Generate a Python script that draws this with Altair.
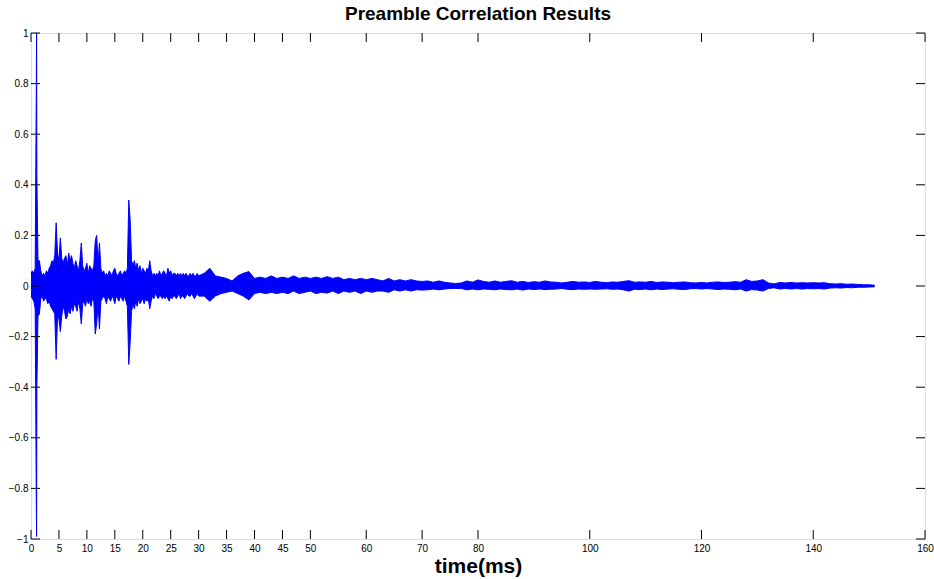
import altair as alt
import pandas as pd

# ---- data (time in ms, correlation envelope) ----
t_ms = [
    0.00, 0.25, 0.50, 0.75, 0.95, 1.00, 1.05, 1.25, 1.50, 1.75,
    2.00, 2.25, 2.50, 2.75, 3.00, 3.25, 3.50, 3.75, 4.00, 4.25,
    4.50, 4.75, 5.00, 5.25, 5.50, 5.75, 6.00, 6.25, 6.50, 6.75,
    7.00, 7.25, 7.50, 7.75, 8.00, 8.25, 8.50, 8.75, 9.00, 9.25,
    9.50, 9.75, 10.00, 10.25, 10.50, 10.75, 11.00, 11.25, 11.50, 11.75,
    12.00, 12.25, 12.50, 12.75, 13.00, 13.25, 13.50, 13.75, 14.00, 14.25,
    14.50, 14.75, 15.00, 15.25, 15.50, 15.75, 16.00, 16.25, 16.50, 16.75,
    17.00, 17.25, 17.50, 17.75, 18.00, 18.25, 18.50, 18.75, 19.00, 19.25,
    19.50, 19.75, 20.00, 20.25, 20.50, 20.75, 21.00, 21.25, 21.50, 21.75,
    22.00, 22.25, 22.50, 22.75, 23.00, 23.25, 23.50, 23.75, 24.00, 24.25,
    24.50, 24.75, 25.00, 25.25, 25.50, 25.75, 26.00, 26.25, 26.50, 26.75,
    27.00, 27.25, 27.50, 27.75, 28.00, 28.25, 28.50, 28.75, 29.00, 29.25,
    29.50, 29.75,
    30, 31, 32, 33, 34, 35, 36, 37, 38, 39,
    40, 41, 42, 43, 44, 45, 46, 47, 48, 49,
    50, 51, 52, 53, 54, 55, 56, 57, 58, 59,
    60, 61, 62, 63, 64, 65, 66, 67, 68, 69,
    70, 71, 72, 73, 74, 75, 76, 77, 78, 79,
    80, 81, 82, 83, 84, 85, 86, 87, 88, 89,
    90, 91, 92, 93, 94, 95, 96, 97, 98, 99,
    100, 101, 102, 103, 104, 105, 106, 107, 108, 109,
    110, 111, 112, 113, 114, 115, 116, 117, 118, 119,
    120, 121, 122, 123, 124, 125, 126, 127, 128, 129,
    130, 131, 132, 133, 134, 135, 136, 137, 138, 139,
    140, 141, 142, 143, 144, 145, 146, 147, 148, 149,
    150, 151,
]

upper = [
    0.05, 0.06, 0.05, 0.07, 0.78, 1.00, 0.44, 0.10, 0.10, 0.06,
    0.04, 0.05, 0.04, 0.06, 0.05, 0.07, 0.08, 0.10, 0.09, 0.12,
    0.25, 0.13, 0.10, 0.19, 0.11, 0.09, 0.11, 0.12, 0.08, 0.13,
    0.10, 0.12, 0.09, 0.07, 0.10, 0.08, 0.06, 0.10, 0.17, 0.08,
    0.06, 0.07, 0.09, 0.05, 0.08, 0.07, 0.06, 0.08, 0.18, 0.20,
    0.09, 0.17, 0.07, 0.05, 0.06, 0.04, 0.05, 0.04, 0.06, 0.05,
    0.04, 0.06, 0.07, 0.05, 0.04, 0.05, 0.06, 0.04, 0.05, 0.06,
    0.05, 0.07, 0.34, 0.26, 0.10, 0.08, 0.10, 0.07, 0.09, 0.06,
    0.08, 0.05, 0.07, 0.06, 0.05, 0.07, 0.06, 0.10, 0.06, 0.04,
    0.05, 0.04, 0.05, 0.04, 0.06, 0.04, 0.05, 0.06, 0.05, 0.04,
    0.07, 0.05, 0.06, 0.04, 0.05, 0.05, 0.04, 0.05, 0.04, 0.05,
    0.04, 0.05, 0.04, 0.05, 0.04, 0.04, 0.05, 0.04, 0.05, 0.04,
    0.04, 0.05,
    0.04, 0.05, 0.07, 0.04, 0.035, 0.03, 0.02, 0.04, 0.05, 0.057,
    0.03, 0.035, 0.03, 0.04, 0.03, 0.035, 0.03, 0.04, 0.03, 0.035,
    0.03, 0.035, 0.03, 0.037, 0.03, 0.035, 0.025, 0.03, 0.025, 0.03,
    0.025, 0.03, 0.025, 0.02, 0.03, 0.02, 0.025, 0.02, 0.025, 0.02,
    0.018, 0.02, 0.015, 0.02, 0.015, 0.012, 0.01, 0.012, 0.02, 0.015,
    0.024, 0.018, 0.015, 0.02, 0.015, 0.018, 0.021, 0.015, 0.018, 0.014,
    0.017, 0.015, 0.02, 0.016, 0.015, 0.012, 0.015, 0.018, 0.015, 0.016,
    0.014, 0.018, 0.015, 0.013, 0.016, 0.015, 0.018, 0.021, 0.015, 0.016,
    0.015, 0.018, 0.014, 0.016, 0.015, 0.013, 0.015, 0.016, 0.013, 0.012,
    0.014, 0.012, 0.015, 0.016, 0.014, 0.015, 0.017, 0.015, 0.025, 0.018,
    0.02, 0.025, 0.012, 0.008, 0.014, 0.012, 0.014, 0.012, 0.013, 0.012,
    0.013, 0.012, 0.013, 0.009, 0.008, 0.009, 0.007, 0.008, 0.006, 0.005,
    0.005, 0.003,
]

lower = [
    -0.04, -0.05, -0.06, -0.09, -0.86, -0.99, -0.40, -0.12, -0.11, -0.05,
    -0.04, -0.06, -0.05, -0.05, -0.07, -0.06, -0.08, -0.09, -0.10, -0.11,
    -0.29, -0.12, -0.13, -0.18, -0.12, -0.08, -0.10, -0.13, -0.12, -0.09,
    -0.11, -0.08, -0.10, -0.07, -0.08, -0.10, -0.06, -0.09, -0.15, -0.07,
    -0.06, -0.08, -0.05, -0.07, -0.06, -0.08, -0.05, -0.06, -0.19, -0.15,
    -0.07, -0.17, -0.06, -0.05, -0.04, -0.05, -0.07, -0.04, -0.05, -0.06,
    -0.04, -0.05, -0.07, -0.04, -0.05, -0.06, -0.04, -0.05, -0.06, -0.04,
    -0.06, -0.08, -0.31, -0.22, -0.10, -0.07, -0.09, -0.06, -0.08, -0.05,
    -0.07, -0.06, -0.05, -0.07, -0.05, -0.06, -0.05, -0.09, -0.06, -0.04,
    -0.05, -0.03, -0.04, -0.05, -0.04, -0.04, -0.05, -0.04, -0.05, -0.04,
    -0.05, -0.06, -0.04, -0.05, -0.04, -0.04, -0.05, -0.04, -0.03, -0.05,
    -0.04, -0.04, -0.05, -0.04, -0.03, -0.04, -0.04, -0.03, -0.04, -0.05,
    -0.04, -0.03,
    -0.04, -0.04, -0.06, -0.04, -0.03, -0.025, -0.02, -0.03, -0.04, -0.055,
    -0.03, -0.025, -0.03, -0.025, -0.03, -0.025, -0.03, -0.02, -0.03, -0.025,
    -0.02, -0.03, -0.025, -0.028, -0.02, -0.03, -0.02, -0.025, -0.02, -0.03,
    -0.02, -0.025, -0.02, -0.02, -0.025, -0.015, -0.02, -0.015, -0.02, -0.015,
    -0.016, -0.015, -0.012, -0.015, -0.012, -0.01, -0.01, -0.01, -0.015, -0.012,
    -0.015, -0.012, -0.013, -0.015, -0.012, -0.014, -0.015, -0.012, -0.016, -0.012,
    -0.014, -0.012, -0.014, -0.013, -0.012, -0.01, -0.013, -0.014, -0.012, -0.013,
    -0.012, -0.013, -0.012, -0.011, -0.013, -0.012, -0.015, -0.02, -0.013, -0.014,
    -0.012, -0.015, -0.012, -0.014, -0.012, -0.011, -0.013, -0.014, -0.011, -0.01,
    -0.012, -0.01, -0.012, -0.014, -0.012, -0.013, -0.015, -0.012, -0.02, -0.014,
    -0.016, -0.02, -0.01, -0.007, -0.012, -0.01, -0.012, -0.01, -0.012, -0.01,
    -0.011, -0.01, -0.012, -0.008, -0.007, -0.008, -0.006, -0.007, -0.005, -0.005,
    -0.004, -0.003,
]

x_ticks = [0, 5, 10, 15, 20, 25, 30, 35, 40, 45, 50, 60, 70, 80, 100, 120, 140, 160]
y_ticks = [-1, -0.8, -0.6, -0.4, -0.2, 0, 0.2, 0.4, 0.6, 0.8, 1]

title_text = "Preamble Correlation Results"
x_title = "time(ms)"

W, H = 894, 506
BLUE = "#0000FF"
FONT = "Liberation Sans"

sig = pd.DataFrame({"t": t_ms, "up": upper, "lo": lower})
xt = pd.DataFrame({"t": x_ticks})
yt = pd.DataFrame({"v": y_ticks})

xs = alt.Scale(domain=[0, 160], nice=False, zero=False)
ys = alt.Scale(domain=[-1, 1], nice=False, zero=False)

xaxis = alt.Axis(values=x_ticks, title=x_title, grid=False, domain=False, tickSize=0,
                 labelPadding=4, labelFontSize=10, labelFont=FONT, labelColor="#000000",
                 titleFont=FONT, titleFontSize=21, titleFontWeight="bold", titleColor="#000000",
                 titlePadding=2, format="d", labelFlush=False)
yaxis = alt.Axis(values=y_ticks, title=None, grid=False, domain=False, tickSize=0,
                 labelPadding=3, labelFontSize=10, labelFont=FONT, labelColor="#000000",
                 format=".1~f", labelFlush=False)

base = alt.Chart(sig)

area = base.mark_area(color=BLUE, opacity=1).encode(
    x=alt.X("t:Q", scale=xs, axis=xaxis),
    y=alt.Y("up:Q", scale=ys, axis=yaxis),
    y2="lo:Q",
)
line_up = base.mark_line(color=BLUE, strokeWidth=1).encode(
    x=alt.X("t:Q", scale=xs, axis=xaxis),
    y=alt.Y("up:Q", scale=ys, axis=yaxis),
)
line_lo = base.mark_line(color=BLUE, strokeWidth=1).encode(
    x=alt.X("t:Q", scale=xs, axis=xaxis),
    y=alt.Y("lo:Q", scale=ys, axis=yaxis),
)

TL = 9
xtick_bottom = alt.Chart(xt).mark_rule(color="#000000", strokeWidth=1).encode(
    x=alt.X("t:Q", scale=xs, axis=xaxis), y=alt.value(H), y2=alt.value(H - TL))
xtick_top = alt.Chart(xt).mark_rule(color="#000000", strokeWidth=1).encode(
    x=alt.X("t:Q", scale=xs, axis=xaxis), y=alt.value(0), y2=alt.value(TL))
ytick_left = alt.Chart(yt).mark_rule(color="#000000", strokeWidth=1).encode(
    y=alt.Y("v:Q", scale=ys, axis=yaxis), x=alt.value(0), x2=alt.value(TL))
ytick_right = alt.Chart(yt).mark_rule(color="#000000", strokeWidth=1).encode(
    y=alt.Y("v:Q", scale=ys, axis=yaxis), x=alt.value(W), x2=alt.value(W - TL))

chart = alt.layer(
    area, line_up, line_lo, xtick_bottom, xtick_top, ytick_left, ytick_right
).properties(
    width=W, height=H,
    title=alt.TitleParams(title_text, font=FONT, fontSize=19, fontWeight="bold",
                          color="#000000", anchor="middle", offset=4),
    autosize=alt.AutoSizeParams(type="none"),
    padding={"left": 31, "top": 33, "right": 9, "bottom": 40},
).configure_view(
    stroke="#000000", strokeWidth=1.5
).configure(background="#FFFFFF")

chart.save("out.html", embed_options={"renderer": "svg", "actions": False})
